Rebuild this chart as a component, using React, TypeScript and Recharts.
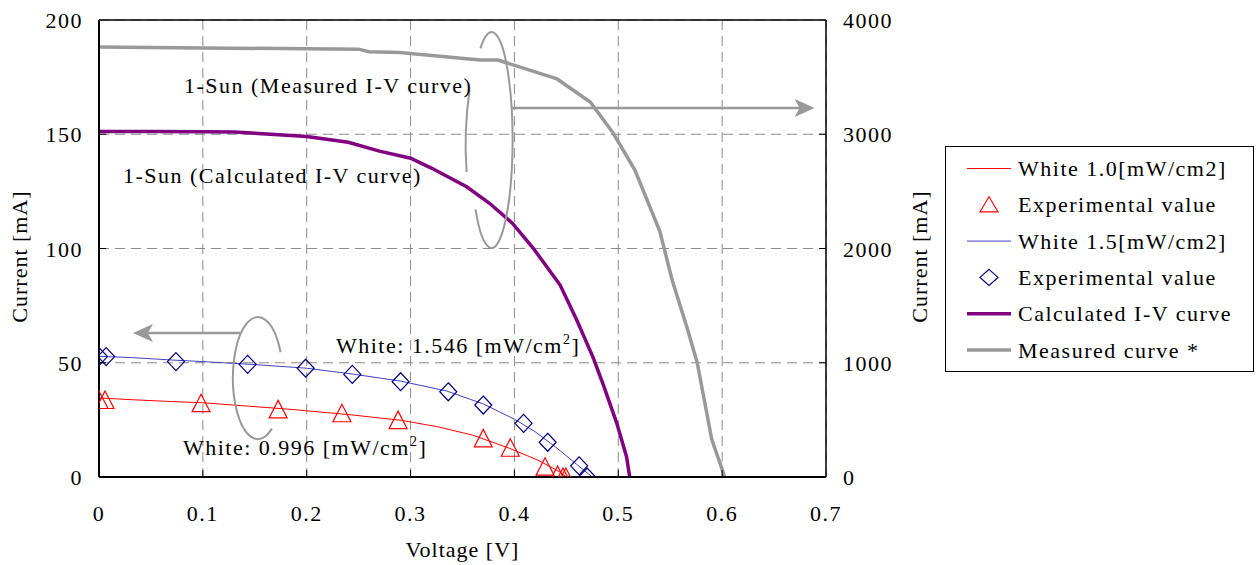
import React from 'react';
import {
  ComposedChart, Line, Scatter, XAxis, YAxis, CartesianGrid,
  ReferenceLine, ReferenceDot, Legend, Label,
} from 'recharts';

const FONT = '"Liberation Serif", "Times New Roman", serif';

// ---- data ----
const xTicks = [0, 0.1, 0.2, 0.3, 0.4, 0.5, 0.6, 0.7];
const leftTicks = [0, 50, 100, 150, 200];
const rightTicks = [0, 1000, 2000, 3000, 4000];

// White 1.0 [mW/cm2] line
const white10V = [0, 0.033, 0.071, 0.1, 0.129, 0.185, 0.243, 0.291, 0.326, 0.36, 0.395, 0.423, 0.443, 0.45];
const white10I = [34.6, 33.8, 33.0, 32.5, 31.5, 29.6, 27.2, 24.8, 22.0, 18.3, 12.6, 7.3, 2.4, 0];

// Experimental (triangles)
const expTriV = [0, 0.0058, 0.0983, 0.1725, 0.2339, 0.288, 0.37, 0.396, 0.4295, 0.4415, 0.4467, 0.4495];
const expTriI = [33.7, 33.7, 32.3, 29.6, 27.9, 24.9, 16.9, 12.8, 4.5, 0.9, 0, 0];

// White 1.5 [mW/cm2] line
const white15V = [0, 0.03, 0.07, 0.1, 0.15, 0.2, 0.245, 0.29, 0.335, 0.37, 0.4, 0.42, 0.44, 0.46, 0.47, 0.475];
const white15I = [52.8, 52.3, 51.2, 50.5, 49.2, 47.6, 45.0, 42.0, 37.6, 32.0, 25.3, 19.8, 13.0, 5.5, 1.8, 0];

// Experimental (diamonds)
const expDiaV = [0, 0.0069, 0.0741, 0.1431, 0.199, 0.2439, 0.2904, 0.3363, 0.37, 0.4088, 0.432, 0.4623, 0.47];
const expDiaI = [52.7, 52.7, 50.5, 49.3, 47.6, 44.9, 41.7, 37.3, 31.5, 23.5, 15.2, 4.9, 0];

// Calculated I-V curve (1-Sun), left axis
const calcV = [0, 0.05, 0.1, 0.13, 0.165, 0.2, 0.24, 0.27, 0.3, 0.32, 0.354, 0.376, 0.398, 0.418, 0.444, 0.46, 0.4755, 0.485, 0.4985, 0.508, 0.511];
const calcI = [151.2, 151.2, 151.1, 151.0, 150.0, 149.0, 146.5, 142.6, 139.5, 135.2, 127.0, 119.8, 111.1, 100.2, 84.0, 68.7, 52.6, 41.1, 23.6, 8.8, 0];

// Measured curve (1-Sun), right axis
const measV = [0, 0.1, 0.25, 0.26, 0.29, 0.302, 0.367, 0.384, 0.393, 0.441, 0.473, 0.495, 0.516, 0.54, 0.552, 0.566, 0.576, 0.59, 0.6025];
const measI = [3764, 3755, 3745, 3722, 3715, 3705, 3650, 3650, 3624, 3484, 3282, 3011, 2687, 2150, 1720, 1313, 1000, 330, 0];

const toPts = (v: number[], i: number[]) => v.map((x, k) => ({ v: x, i: i[k] }));
const white10 = toPts(white10V, white10I);
const expTri = toPts(expTriV, expTriI);
const white15 = toPts(white15V, white15I);
const expDia = toPts(expDiaV, expDiaI);
const calc = toPts(calcV, calcI);
const meas = toPts(measV, measI);

const legendItems = [
  { label: 'White 1.0[mW/cm2]', kind: 'line', color: '#ff0000', w: 1 },
  { label: 'Experimental value', kind: 'tri', color: '#ff0000', w: 1.2 },
  { label: 'White 1.5[mW/cm2]', kind: 'line', color: '#4040c0', w: 1 },
  { label: 'Experimental value', kind: 'dia', color: '#000080', w: 1.2 },
  { label: 'Calculated I-V curve', kind: 'line', color: '#800080', w: 3.5 },
  { label: 'Measured curve *', kind: 'line', color: '#999999', w: 3.5 },
];

const GREY = '#999999';

// ---- shapes ----
const Triangle = (p: any) => {
  const { cx, cy } = p;
  return <polygon points={`${cx},${cy - 9} ${cx - 9},${cy + 8.5} ${cx + 9},${cy + 8.5}`} fill="none" stroke="#ff0000" strokeWidth={1.2} />;
};
const Diamond = (p: any) => {
  const { cx, cy } = p;
  return <polygon points={`${cx},${cy - 9} ${cx + 8.5},${cy} ${cx},${cy + 9} ${cx - 8.5},${cy}`} fill="none" stroke="#000080" strokeWidth={1.2} />;
};

const txt = { fontFamily: FONT, fontSize: 22, fill: '#000', letterSpacing: 1.5 } as const;

const XTick = (props: any) => {
  const { x, y, payload } = props;
  const v = payload.value as number;
  const label = v === 0 ? '0' : v.toFixed(1);
  return (
    <g>
      {v > 0 && v < 0.7 ? <line x1={x} y1={y} x2={x} y2={y - 7} stroke="#000" strokeWidth={1} /> : null}
      <text x={x} y={y + 44} textAnchor="middle" {...txt}>{label}</text>
    </g>
  );
};
const LeftTick = (props: any) => {
  const { x, y, payload } = props;
  const v = payload.value as number;
  return (
    <g>
      {v > 0 && v < 200 ? <line x1={x} y1={y} x2={x + 7} y2={y} stroke="#000" strokeWidth={1} /> : null}
      <text x={x - 16} y={y + 8} textAnchor="end" {...txt}>{String(v)}</text>
    </g>
  );
};
const RightTick = (props: any) => {
  const { x, y, payload } = props;
  const v = payload.value as number;
  return (
    <g>
      {v > 0 && v < 4000 ? <line x1={x} y1={y} x2={x - 7} y2={y} stroke="#000" strokeWidth={1} /> : null}
      <text x={x + 17} y={y + 8} textAnchor="start" {...txt}>{String(v)}</text>
    </g>
  );
};

const LeftTitle = (props: any) => {
  const vb = props.viewBox || { x: 0, y: 20, width: 99, height: 457 };
  const x = vb.x + 27;
  const y = vb.y + vb.height / 2 + 8;
  return <text x={x} y={y} transform={`rotate(-90, ${x}, ${y})`} textAnchor="middle" {...txt} letterSpacing={1}>Current [mA]</text>;
};
const RightTitle = (props: any) => {
  const vb = props.viewBox || { x: 826, y: 20, width: 120, height: 457 };
  const x = vb.x + 101;
  const y = vb.y + vb.height / 2 + 8;
  return <text x={x} y={y} transform={`rotate(-90, ${x}, ${y})`} textAnchor="middle" {...txt} letterSpacing={1}>Current [mA]</text>;
};
const XTitle = (props: any) => {
  const vb = props.viewBox || { x: 99, y: 477, width: 727, height: 88 };
  return <text x={vb.x + vb.width / 2} y={vb.y + 80} textAnchor="middle" {...txt} letterSpacing={1}>Voltage [V]</text>;
};

const TextAt = (content: React.ReactNode) => (p: any) => (
  <text x={p.cx} y={p.cy} {...txt}>{content}</text>
);

const arcPath = (cx: number, cy: number, rx: number, ry: number, a1: number, a2: number, large: number, sweep: number) => {
  const r = Math.PI / 180;
  const x1 = cx + rx * Math.cos(a1 * r), y1 = cy + ry * Math.sin(a1 * r);
  const x2 = cx + rx * Math.cos(a2 * r), y2 = cy + ry * Math.sin(a2 * r);
  return `M ${x1} ${y1} A ${rx} ${ry} 0 ${large} ${sweep} ${x2} ${y2}`;
};

const TopLoop = (p: any) => {
  const { cx, cy } = p;
  return (
    <g fill="none" stroke={GREY} strokeWidth={2}>
      <path d={arcPath(cx, cy, 21, 108, -122, 140, 1, 1)} />
      <path d={`M ${cx - 22} ${cy - 50} Q ${cx - 28} ${cy - 9} ${cx - 25} ${cy + 32}`} />
    </g>
  );
};
const BottomLoop = (p: any) => {
  const { cx, cy } = p;
  return <path d={arcPath(cx, cy, 25, 61, -25, 56, 1, 0)} fill="none" stroke={GREY} strokeWidth={2} />;
};
const HeadRight = (p: any) => {
  const { cx, cy } = p;
  return <polygon points={`${cx},${cy} ${cx - 20},${cy - 9} ${cx - 15},${cy} ${cx - 20},${cy + 9}`} fill={GREY} stroke="none" />;
};
const HeadLeft = (p: any) => {
  const { cx, cy } = p;
  return <polygon points={`${cx},${cy} ${cx + 20},${cy - 9} ${cx + 15},${cy} ${cx + 20},${cy + 9}`} fill={GREY} stroke="none" />;
};

const renderLegend = () => {
  const W = 309, H = 226;
  return (
    <svg width={W} height={H} style={{ display: 'block' }}>
      <rect x={0.5} y={0.5} width={W - 1} height={H - 1} fill="#fff" stroke="#000" strokeWidth={1} />
      {legendItems.map((it, k) => {
        const cy = 22.5 + k * 36.3;
        const mx = 44;
        let mark: React.ReactNode = null;
        if (it.kind === 'line') {
          mark = <line x1={22} y1={cy} x2={66} y2={cy} stroke={it.color} strokeWidth={it.w} />;
        } else if (it.kind === 'tri') {
          mark = <polygon points={`${mx},${cy - 8} ${mx - 9},${cy + 7} ${mx + 9},${cy + 7}`} fill="none" stroke={it.color} strokeWidth={1.2} />;
        } else {
          mark = <polygon points={`${mx},${cy - 8} ${mx + 9},${cy} ${mx},${cy + 8} ${mx - 9},${cy}`} fill="none" stroke={it.color} strokeWidth={1.2} />;
        }
        return (
          <g key={k}>
            {mark}
            <text x={73} y={cy + 7.5} {...txt}>{it.label}</text>
          </g>
        );
      })}
    </svg>
  );
};

export default function App() {
  return (
    <div style={{ position: 'absolute', left: 0, top: 0, width: 1257, height: 565, background: '#fff' }}>
      <ComposedChart width={1257} height={565} margin={{ top: 20, right: 311, bottom: 0, left: 0 }}>
        <CartesianGrid yAxisId="left" stroke="#8c8c8c" strokeDasharray="10 6" strokeWidth={1} />
        <XAxis
          type="number" dataKey="v" domain={[0, 0.7]} ticks={xTicks} interval={0}
          height={88} tickSize={0} tickMargin={0} tickLine={false}
          axisLine={{ stroke: '#000', strokeWidth: 2 }} tick={<XTick />} allowDataOverflow
          label={<Label content={<XTitle />} />}
        />
        <YAxis
          yAxisId="left" orientation="left" type="number" domain={[0, 200]} ticks={leftTicks} interval={0}
          width={99} tickSize={0} tickMargin={0} tickLine={false}
          axisLine={{ stroke: '#000', strokeWidth: 2 }} tick={<LeftTick />} allowDataOverflow
          label={<Label content={<LeftTitle />} />}
        />
        <YAxis
          yAxisId="right" orientation="right" type="number" domain={[0, 4000]} ticks={rightTicks} interval={0}
          width={120} tickSize={0} tickMargin={0} tickLine={false}
          axisLine={{ stroke: '#000', strokeWidth: 1.5 }} tick={<RightTick />} allowDataOverflow
          label={<Label content={<RightTitle />} />}
        />
        <ReferenceLine yAxisId="left" y={200} stroke="#000" strokeWidth={1.5} />

        <Line yAxisId="right" data={meas} dataKey="i" type="linear" stroke={GREY} strokeWidth={3.5} dot={false} activeDot={false} isAnimationActive={false} />
        <Line yAxisId="left" data={calc} dataKey="i" type="linear" stroke="#800080" strokeWidth={3.5} dot={false} activeDot={false} isAnimationActive={false} />
        <Line yAxisId="left" data={white10} dataKey="i" type="linear" stroke="#ff0000" strokeWidth={1} dot={false} activeDot={false} isAnimationActive={false} />
        <Line yAxisId="left" data={white15} dataKey="i" type="linear" stroke="#4040c0" strokeWidth={1} dot={false} activeDot={false} isAnimationActive={false} />
        <Scatter yAxisId="left" data={expTri} dataKey="i" shape={Triangle} isAnimationActive={false} />
        <Scatter yAxisId="left" data={expDia} dataKey="i" shape={Diamond} isAnimationActive={false} />

        {/* annotations */}
        <ReferenceLine yAxisId="left" segment={[{ x: 0.3975, y: 161.5 }, { x: 0.675, y: 161.5 }]} stroke={GREY} strokeWidth={2.5} />
        <ReferenceDot yAxisId="left" x={0.689} y={161.5} r={0} shape={HeadRight} />
        <ReferenceLine yAxisId="left" segment={[{ x: 0.1357, y: 63 }, { x: 0.045, y: 63 }]} stroke={GREY} strokeWidth={2.5} />
        <ReferenceDot yAxisId="left" x={0.0327} y={63} r={0} shape={HeadLeft} />
        <ReferenceDot yAxisId="left" x={0.378} y={147.5} r={0} shape={TopLoop} />
        <ReferenceDot yAxisId="left" x={0.153} y={43.3} r={0} shape={BottomLoop} />

        <ReferenceDot yAxisId="left" x={0.0818} y={168.05} r={0} shape={TextAt('1-Sun (Measured I-V curve)')} />
        <ReferenceDot yAxisId="left" x={0.0231} y={128.7} r={0} shape={TextAt('1-Sun (Calculated I-V curve)')} />
        <ReferenceDot yAxisId="left" x={0.2281} y={54.3} r={0} shape={TextAt(<>White: 1.546 [mW/cm<tspan dy={-9} fontSize={14}>2</tspan><tspan dy={9}>]</tspan></>)} />
        <ReferenceDot yAxisId="left" x={0.0808} y={9.6} r={0} shape={TextAt(<>White: 0.996 [mW/cm<tspan dy={-9} fontSize={14}>2</tspan><tspan dy={9}>]</tspan></>)} />

        <Legend
          layout="vertical" align="center" verticalAlign="middle"
          wrapperStyle={{ position: 'absolute', left: 945, top: 146, width: 309, height: 226, margin: 0, padding: 0 }}
          content={renderLegend}
        />
      </ComposedChart>
    </div>
  );
}
